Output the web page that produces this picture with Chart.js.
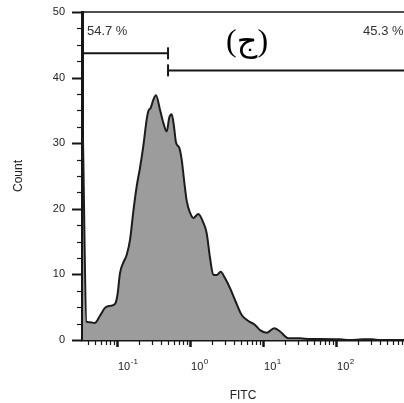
<!DOCTYPE html>
<html>
<head>
<meta charset="utf-8">
<script src="https://cdn.jsdelivr.net/npm/chart.js@4/dist/chart.umd.min.js"></script>
<style>
  body { margin: 0; background: #fff; overflow: hidden; }
</style>
</head>
<body>
<canvas id="fitc-chart" width="404" height="403"></canvas>
<script>
// FITC histogram: intensity (log) vs event count
const fitcValues = [
  0.0342, 0.0382, 0.0427, 0.050, 0.0585, 0.0685, 0.0802, 0.094, 0.1016, 0.110,
  0.122, 0.136, 0.151, 0.167, 0.186, 0.207, 0.229, 0.255, 0.269, 0.290,
  0.314, 0.342, 0.388, 0.431, 0.480, 0.520, 0.561, 0.604, 0.643, 0.713,
  0.769, 0.828, 0.901, 1.0, 1.11, 1.30, 1.52, 1.69, 1.88, 2.09,
  2.32, 2.63, 3.02, 3.53, 4.13, 5.10, 6.29, 7.77, 9.09, 11.2,
  14.2, 17.1, 22.2, 32.1, 44.0, 60.4, 113, 155, 234, 310,
  400, 850
];
const counts = [
  31, 2.8, 2.7, 2.6, 3.7, 4.9, 5.2, 5.5, 6.9, 10.2,
  11.8, 13.0, 15.3, 19.5, 23.4, 26.3, 29.5, 33.6, 34.9, 35.4,
  36.6, 37.3, 35.1, 33.1, 31.8, 33.9, 34.4, 32.5, 30.1, 29.3,
  27.5, 24.4, 21.2, 19.4, 18.6, 19.2, 17.9, 16.3, 12.5, 9.9,
  9.9, 10.4, 9.4, 7.9, 6.1, 3.8, 2.9, 2.3, 1.5, 1.1,
  1.8, 1.3, 0.26, 0.26, 0.15, 0.15, 0.1, 0, 0.1, 0.1,
  0, 0
];

// axis ranges and ticks
const xMin = 0.0332;
const xMax = 850;
const yMax = 50;
const countMinorStep = 2.5;
const decadeExponents = [-1, 0, 1, 2];

// gates
const gateSplit = 0.5;
const leftGateCount = 43.7;
const rightGateCount = 41.1;
const gateLabels = ['54.7 %', '45.3 %'];
const panelLabel = '(ج)';

const ink = '#161616';

const axisDecor = {
  id: 'axisDecor',
  afterDraw(chart) {
    const { ctx, chartArea: a, scales: { x, y } } = chart;
    ctx.save();
    ctx.strokeStyle = ink;

    // frame top
    ctx.lineWidth = 1.5;
    ctx.beginPath();
    ctx.moveTo(a.left, a.top);
    ctx.lineTo(a.right, a.top);
    ctx.stroke();

    // count ticks
    for (let v = 0; v <= yMax; v += countMinorStep) {
      const major = v % 10 === 0;
      const py = Math.round(y.getPixelForValue(v)) + 0.5;
      ctx.lineWidth = major ? 2 : 1.2;
      ctx.beginPath();
      ctx.moveTo(a.left - (major ? 10 : 5), py);
      ctx.lineTo(a.left, py);
      ctx.stroke();
    }

    // log ticks along FITC
    for (let e = -2; e <= 3; e++) {
      for (let m = 1; m <= 9; m++) {
        const v = m * Math.pow(10, e);
        if (v < xMin || v > xMax) continue;
        const px = Math.round(x.getPixelForValue(v)) + 0.5;
        const major = m === 1;
        ctx.lineWidth = major ? 2.5 : 1.2;
        ctx.beginPath();
        ctx.moveTo(px, a.bottom);
        ctx.lineTo(px, a.bottom + (major ? 7 : 5));
        ctx.stroke();
      }
    }

    // decade labels 10^n
    ctx.fillStyle = '#222';
    ctx.textBaseline = 'alphabetic';
    ctx.textAlign = 'left';
    decadeExponents.forEach(e => {
      const px = x.getPixelForValue(Math.pow(10, e)) + 1;
      ctx.font = '11px Arial, "Liberation Sans", sans-serif';
      ctx.fillText('10', px, a.bottom + 30);
      const w = ctx.measureText('10').width;
      ctx.font = '8px Arial, "Liberation Sans", sans-serif';
      ctx.fillText(String(e), px + w + 0.5, a.bottom + 24);
    });

    // gate percentages and panel mark
    ctx.fillStyle = '#333';
    ctx.textBaseline = 'middle';
    ctx.font = '13px Arial, "Liberation Sans", sans-serif';
    ctx.fillText(gateLabels[0], x.getPixelForValue(0.0388), y.getPixelForValue(47.0));
    ctx.fillText(gateLabels[1], x.getPixelForValue(234), y.getPixelForValue(47.0));

    ctx.fillStyle = '#000';
    ctx.textAlign = 'center';
    ctx.textBaseline = 'alphabetic';
    ctx.font = '32px "Liberation Serif", "DejaVu Sans", serif';
    ctx.fillText(panelLabel, x.getPixelForValue(6.04), y.getPixelForValue(44.0));
    ctx.restore();
  }
};

const capRadius = ctx => (ctx.raw && ctx.raw.x === gateSplit ? 6 : 0);

new Chart(document.getElementById('fitc-chart').getContext('2d'), {
  type: 'line',
  data: {
    datasets: [
      {
        data: fitcValues.map((v, i) => ({ x: v, y: counts[i] })),
        fill: 'origin',
        backgroundColor: '#9c9c9c',
        borderColor: '#1c1c1c',
        borderWidth: 2,
        pointRadius: 0,
        cubicInterpolationMode: 'monotone'
      },
      {
        data: [{ x: xMin, y: leftGateCount }, { x: gateSplit, y: leftGateCount }],
        borderColor: ink,
        borderWidth: 2,
        fill: false,
        pointStyle: 'line',
        rotation: 90,
        pointRadius: capRadius,
        pointBorderWidth: 2,
        pointBorderColor: ink
      },
      {
        data: [{ x: gateSplit, y: rightGateCount }, { x: xMax, y: rightGateCount }],
        borderColor: ink,
        borderWidth: 2,
        fill: false,
        pointStyle: 'line',
        rotation: 90,
        pointRadius: capRadius,
        pointBorderWidth: 2,
        pointBorderColor: ink
      }
    ]
  },
  options: {
    responsive: false,
    animation: false,
    events: [],
    layout: { autoPadding: false, padding: { top: 12, right: 0, bottom: 0, left: 0 } },
    plugins: { legend: { display: false }, tooltip: { enabled: false } },
    scales: {
      x: {
        type: 'logarithmic',
        min: xMin,
        max: xMax,
        grid: { display: false, drawTicks: false },
        border: { color: ink, width: 2.5 },
        ticks: { display: false },
        title: {
          display: true,
          text: 'FITC',
          color: '#222',
          font: { family: 'Arial, "Liberation Sans", sans-serif', size: 12 },
          padding: { top: 0, bottom: 0 }
        },
        afterFit: s => { s.height = 63; }
      },
      y: {
        min: 0,
        max: yMax,
        grid: { display: false, drawTicks: true, tickLength: 17 },
        border: { color: ink, width: 3 },
        ticks: {
          stepSize: 10,
          padding: 0,
          color: '#222',
          font: { family: 'Arial, "Liberation Sans", sans-serif', size: 11 }
        },
        title: {
          display: true,
          text: 'Count',
          color: '#222',
          font: { family: 'Arial, "Liberation Sans", sans-serif', size: 12 },
          padding: { top: 11, bottom: 0 }
        },
        afterFit: s => { s.width = 82; }
      }
    }
  },
  plugins: [axisDecor]
});
</script>
</body>
</html>
